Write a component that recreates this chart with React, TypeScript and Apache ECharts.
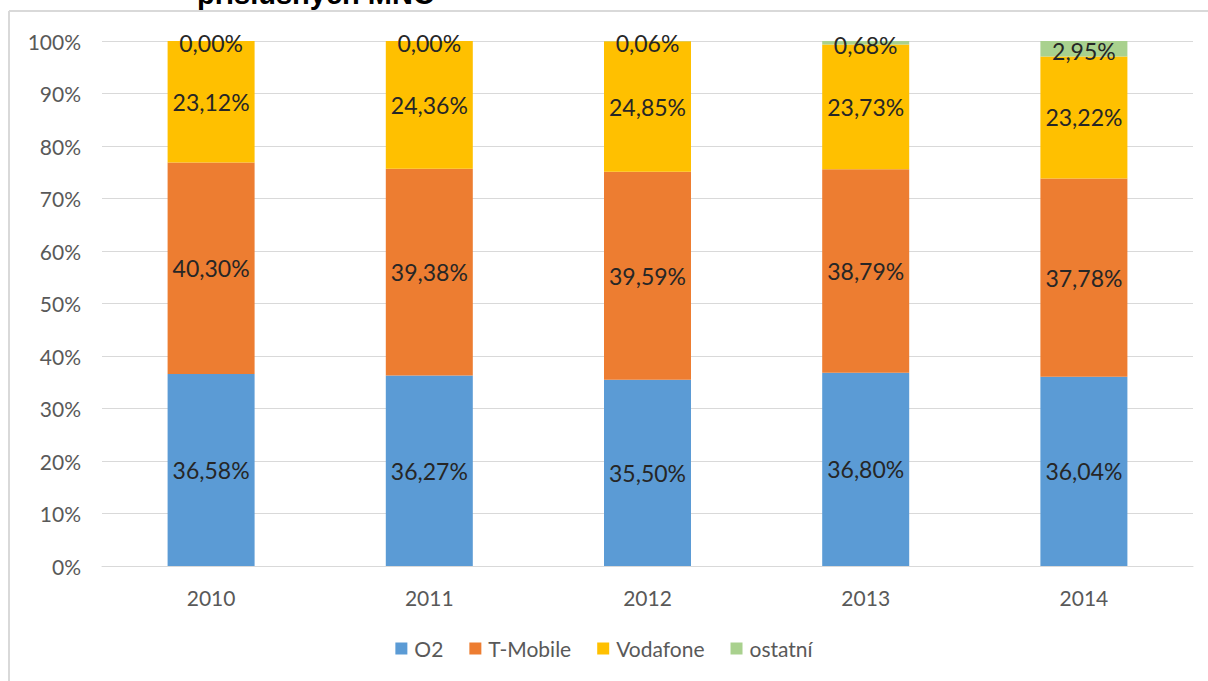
import React, { useEffect, useRef } from "react";
import * as echarts from "echarts";

const years = ["2010", "2011", "2012", "2013", "2014"];
const o2 = [36.58, 36.27, 35.5, 36.8, 36.04];
const tMobile = [40.3, 39.38, 39.59, 38.79, 37.78];
const vodafone = [23.12, 24.36, 24.85, 23.73, 23.22];
const ostatni = [0.0, 0.0, 0.06, 0.68, 2.95];
const seriesNames = ["O2", "T-Mobile", "Vodafone", "ostatní"];
const colors = ["#5B9BD5", "#ED7D31", "#FFC000", "#A9D18E"];
const titleText = "příslušných MNO";

const FONT = "Lato, 'Open Sans', sans-serif";

export default function App() {
  const ref = useRef<HTMLDivElement>(null);
  useEffect(() => {
    if (!ref.current) return;
    const chart = echarts.init(ref.current, undefined, { renderer: "svg" });
    const fmt = (p: any) => p.value.toFixed(2).replace(".", ",") + "%";
    const seriesData = [o2, tMobile, vodafone, ostatni];
    chart.setOption({
      animation: false,
      backgroundColor: "#ffffff",
      color: colors,
      textStyle: { fontFamily: FONT },
      grid: { left: 102, right: 15, top: 41, bottom: 115, containLabel: false },
      legend: {
        data: seriesNames,
        top: 633,
        left: "center",
        itemWidth: 12,
        itemHeight: 12,
        itemGap: 26,
        icon: "rect",
        textStyle: { fontSize: 21, color: "#595959", fontFamily: FONT, padding: [0, 0, 0, 2] },
      },
      xAxis: {
        type: "category",
        data: years,
        axisLine: { lineStyle: { color: "#d9d9d9", width: 1 } },
        axisTick: { show: false },
        axisLabel: { color: "#595959", fontSize: 21, margin: 21, fontFamily: FONT },
      },
      yAxis: {
        type: "value",
        min: 0,
        max: 100,
        interval: 10,
        axisLine: { show: false },
        axisTick: { show: false },
        axisLabel: { formatter: "{value}%", color: "#595959", fontSize: 21, margin: 21, fontFamily: FONT },
        splitLine: { lineStyle: { color: "#d9d9d9", width: 1 } },
      },
      series: seriesNames.map((name, i) => ({
        name,
        type: "bar",
        stack: "total",
        barWidth: 87,
        clip: false,
        data: seriesData[i],
        itemStyle: { color: colors[i] },
        label: {
          show: true,
          position: "inside",
          formatter: fmt,
          color: "#262626",
          fontSize: 23,
          fontFamily: FONT,
          offset: i === 3 ? [0, 2] : [0, 0],
        },
      })),
      graphic: [
        {
          type: "line",
          shape: { x1: 9, y1: 11, x2: 1208, y2: 11 },
          style: { stroke: "#d9d9d9", lineWidth: 2 },
          silent: true,
        },
        {
          type: "line",
          shape: { x1: 9, y1: 11, x2: 9, y2: 681 },
          style: { stroke: "#d9d9d9", lineWidth: 2 },
          silent: true,
        },
        {
          type: "text",
          x: 197,
          y: -6,
          style: {
            text: titleText,
            fontSize: 29,
            fontWeight: "bold",
            fontFamily: "'Liberation Sans', Arial, sans-serif",
            fill: "#000000",
            verticalAlign: "middle",
            align: "left",
          },
          silent: true,
        },
      ],
    });
    return () => chart.dispose();
  }, []);
  return (
    <div
      ref={ref}
      style={{ position: "absolute", left: 0, top: 0, width: 1208, height: 681, background: "#fff" }}
    />
  );
}
